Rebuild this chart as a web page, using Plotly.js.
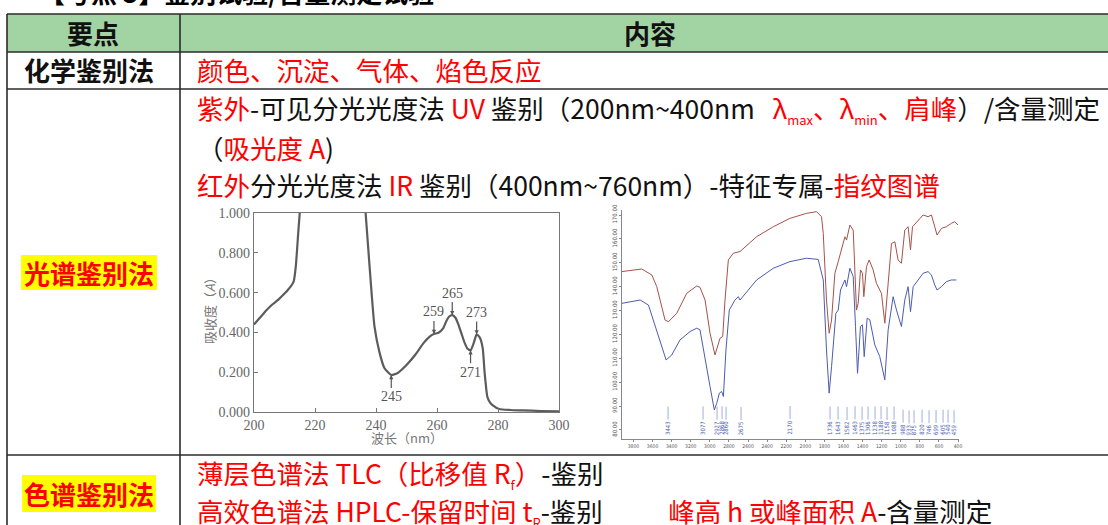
<!DOCTYPE html>
<html>
<head>
<meta charset="utf-8">
<script src="https://cdn.plot.ly/plotly-3.0.1.min.js"></script>
<style>html,body{margin:0;padding:0;background:#fff;}#chart{width:1108px;height:525px;}</style>
</head>
<body>
<div id="chart"></div>
<script>
// ---------- Data ----------
// UV spectrum (wavelength nm, absorbance A)
const uvWavelength = [200,202,204,206,208,210,212,213,213.7,214.5,215.1,225,236.5,237.9,239.5,241.2,242.8,245,247,250,253,255.5,257.5,259,260.5,262,263,264,265,266,267,268,269,270,271,272,273,274,275,275.6,276.5,277.3,278.2,280.4,284,288,294,300];
const uvAbsorbance = [0.44,0.475,0.51,0.54,0.565,0.595,0.63,0.655,0.73,0.9,1.02,null,1.02,0.73,0.43,0.296,0.22,0.186,0.195,0.236,0.29,0.345,0.378,0.392,0.398,0.42,0.455,0.48,0.487,0.475,0.44,0.395,0.35,0.318,0.31,0.345,0.39,0.375,0.32,0.2,0.077,0.05,0.035,0.015,0.01,0.008,0.005,0.003];
const uvPeaksAbove = [259,265,273];
const uvPeaksBelow = [245,271];

// IR spectra (wavenumber cm-1, transmittance)
const irWavenumber = [3922,3800,3713,3608,3556,3469,3434,3347,3242,3137,3103,3050,2998,2946,2911,2893,2865,2841,2806,2754,2684,2510,2335,2161,1987,1882,1830,1812,1778,1750,1725,1690,1655,1620,1585,1568,1533,1498,1464,1446,1422,1401,1387,1359,1331,1289,1255,1202,1167,1132,1097,1062,1028,993,958,923,898,877,818,766,714,679,644,620,574,522,470,435,400];
const irRed = [146.3,147,147.4,144.9,140,126,125.3,128.8,137.2,140.3,139.7,134.4,120.5,111.4,116.3,118.4,119.1,134.4,151.2,154,154.7,160.9,165.1,168.6,170.7,171.4,169.3,162.3,134.4,120.5,126,145.6,150.5,155.4,160.9,159.5,165.8,163.7,130.2,133,147,145.6,135.8,148.4,151.2,147,141.4,137.2,124.7,141.4,158.1,158.8,151.2,149.8,163.7,165.1,155.4,165.1,167.9,170,169.3,170,165.1,161.6,164.4,165.1,166.5,167.2,165.8];
const irBlueWavenumber = [3922,3730,3643,3573,3504,3458,3399,3312,3207,3137,3103,3050,2998,2953,2928,2900,2876,2858,2831,2796,2737,2702,2684,2510,2335,2161,1987,1865,1812,1778,1750,1725,1680,1655,1631,1585,1568,1533,1498,1474,1453,1422,1401,1383,1352,1324,1272,1220,1167,1132,1080,1045,993,958,923,898,870,818,766,714,679,644,620,574,522,470,417];
const irBlue = [133,134.4,132.3,123.3,114.9,109.3,111.4,117.7,121.2,122.6,121.9,110.7,98.2,88.4,91.1,95.4,96.1,94,113.5,130.2,134.4,135.8,134.4,142.8,147.7,150.5,151.9,151.4,142.8,113.5,95.4,106.5,128.8,130.2,138.6,142.8,140,147.7,144.2,123.3,103.7,123.3,124,110.7,126.8,126.1,115.6,110.7,101,121.9,135.8,130.2,123.3,134.4,140,129.5,140,142.8,145.6,146.3,144.9,140.7,138.6,140,142.1,142.8,142.8];
const irPeakLabels = ['3443','3077','2927','2868','2860','2675','2170','1736','1643','1582','1463','1375','1306','1238','1188','1158','1088','988','933','875','820','746','699','605','540','459'];
const irPeakLabelPos = [3443,3077,2927,2880,2835,2675,2170,1747,1663,1565,1488,1408,1349,1276,1216,1146,1077,989,920,868,791,711,641,571,519,450];

// ---------- Helpers ----------
const W = 1108, H = 525;
const px = x => x / W;
const py = y => 1 - y / H;
const RED = '#ff0000';
const r = t => '<span style="color:' + RED + '">' + t + '</span>';
const sub = t => '<sub><span style="font-size:13px">' + t + '</span></sub>';
const CJK = '"Noto Sans CJK SC", "Noto Sans", sans-serif';
const SERIF = '"Liberation Serif", "DejaVu Serif", serif';
const NB = '\u00A0';
const FS = 26.5;

function interp(xs, ys, x) {
  for (let i = 0; i < xs.length - 1; i++) {
    const a = xs[i], b = xs[i + 1];
    if (ys[i] == null || ys[i + 1] == null) continue;
    if ((x - a) * (x - b) <= 0) {
      return ys[i] + (ys[i + 1] - ys[i]) * (x - a) / (b - a);
    }
  }
  return null;
}

// ---------- Traces ----------
const traces = [
  {x: uvWavelength, y: uvAbsorbance, xaxis: 'x', yaxis: 'y', type: 'scatter', mode: 'lines',
   line: {color: '#5c5c5c', width: 2.2, shape: 'spline', smoothing: 0.5}, connectgaps: false, hoverinfo: 'skip'},
  {x: irWavenumber, y: irRed, xaxis: 'x2', yaxis: 'y2', type: 'scatter', mode: 'lines',
   line: {color: '#a5524a', width: 1}, hoverinfo: 'skip'},
  {x: irBlueWavenumber, y: irBlue, xaxis: 'x2', yaxis: 'y2', type: 'scatter', mode: 'lines',
   line: {color: '#4b5cae', width: 1}, hoverinfo: 'skip'}
];

// ---------- Table shapes ----------
const LINE = {color: '#2b2b2b', width: 1.6};
const shapes = [
  {type: 'rect', xref: 'paper', yref: 'paper', x0: px(7), x1: px(1110), y0: py(52), y1: py(14), fillcolor: '#a2d3a3', line: {width: 0}, layer: 'below'},
  {type: 'rect', xref: 'paper', yref: 'paper', x0: px(21), x1: px(157), y0: py(290), y1: py(255), fillcolor: '#ffff00', line: {width: 0}, layer: 'below'},
  {type: 'rect', xref: 'paper', yref: 'paper', x0: px(22), x1: px(156), y0: py(512), y1: py(475), fillcolor: '#ffff00', line: {width: 0}, layer: 'below'},
  // horizontal lines
  {type: 'line', xref: 'paper', yref: 'paper', x0: px(7), x1: px(1110), y0: py(14), y1: py(14), line: LINE},
  {type: 'line', xref: 'paper', yref: 'paper', x0: px(7), x1: px(1110), y0: py(52), y1: py(52), line: LINE},
  {type: 'line', xref: 'paper', yref: 'paper', x0: px(7), x1: px(1110), y0: py(89), y1: py(89), line: LINE},
  {type: 'line', xref: 'paper', yref: 'paper', x0: px(7), x1: px(1110), y0: py(455), y1: py(455), line: LINE},
  // vertical lines
  {type: 'line', xref: 'paper', yref: 'paper', x0: px(7), x1: px(7), y0: py(14), y1: py(530), line: LINE},
  {type: 'line', xref: 'paper', yref: 'paper', x0: px(180), x1: px(180), y0: py(14), y1: py(530), line: LINE}
];

// ---------- Text annotations ----------
const T = (x, y, text, opts) => Object.assign({
  xref: 'paper', yref: 'paper', x: px(x), y: py(y), text: text, showarrow: false,
  xanchor: 'left', yanchor: 'middle', font: {family: CJK, size: FS, color: '#111'}
}, opts || {});

const annotations = [
  T(37, -8, '<b>【考点 5】鉴别试验/含量测定试验</b>', {font: {family: CJK, size: 26, color: '#000'}}),
  T(93, 33, '<b>要点</b>', {xanchor: 'center', font: {family: CJK, size: 26, color: '#111'}}),
  T(650, 33, '<b>内容</b>', {xanchor: 'center', font: {family: CJK, size: 26, color: '#111'}}),
  T(89, 70, '<b>化学鉴别法</b>', {xanchor: 'center', font: {family: CJK, size: 26, color: '#111'}}),
  T(195, 70, r('颜色、沉淀、气体、焰色反应')),
  T(195, 109, r('紫外') + '-可见分光光度法 ' + r('UV') + ' 鉴别（200nm~400nm' + NB + NB + NB + r('λ' + sub('max') + '、λ' + sub('min') + '、肩峰') + '）/含量测定'),
  T(195, 147, '（' + r('吸光度 A') + ')'),
  T(195, 184, r('红外') + '分光光度法 ' + r('IR') + ' 鉴别（400nm~760nm）-特征专属-' + r('指纹图谱')),
  T(89, 272, '<b>' + r('光谱鉴别法') + '</b>', {xanchor: 'center', font: {family: CJK, size: 26, color: RED}}),
  T(89, 493, '<b>' + r('色谱鉴别法') + '</b>', {xanchor: 'center', font: {family: CJK, size: 26, color: RED}}),
  T(195, 473, r('薄层色谱法 TLC（比移值 R' + sub('f') + '）') + '-鉴别'),
  T(195, 511, r('高效色谱法 HPLC-保留时间 t' + sub('R')) + '-鉴别' + NB.repeat(11) + r('峰高 h 或峰面积 A') + '-含量测定'),
  // UV axis titles
  T(407, 437, '波长（nm）', {xanchor: 'center', font: {family: CJK, size: 13, color: '#777'}}),
  T(209, 308, '吸收度（<i>A</i>）', {xanchor: 'center', textangle: -90, font: {family: CJK, size: 13, color: '#777'}})
];

// UV peak labels
uvPeaksAbove.forEach(p => {
  annotations.push({xref: 'x', yref: 'y', x: p, y: interp(uvWavelength, uvAbsorbance, p), text: String(p),
    showarrow: true, arrowhead: 2, arrowsize: 0.7, arrowwidth: 1.2, arrowcolor: '#555', ax: 0, ay: -22,
    font: {family: SERIF, size: 14, color: '#555'}});
});
uvPeaksBelow.forEach(p => {
  annotations.push({xref: 'x', yref: 'y', x: p, y: interp(uvWavelength, uvAbsorbance, p), text: String(p),
    showarrow: true, arrowhead: 2, arrowsize: 0.7, arrowwidth: 1.2, arrowcolor: '#555', ax: 0, ay: 22,
    font: {family: SERIF, size: 14, color: '#555'}});
});

// IR peak labels (rotated)
irPeakLabels.forEach((lab, i) => {
  annotations.push({xref: 'x2', yref: 'paper', x: irPeakLabelPos[i], y: py(437), yanchor: 'bottom', xanchor: 'center',
    text: lab + ' ────', textangle: -90, showarrow: false,
    font: {family: '"DejaVu Sans Condensed", "Liberation Sans Narrow", sans-serif', size: 6, color: '#4b5cae'}});
});

// ---------- Layout ----------
const layout = {
  width: W, height: H,
  margin: {l: 0, r: 0, t: 0, b: 0},
  paper_bgcolor: '#ffffff', plot_bgcolor: '#ffffff',
  showlegend: false,
  xaxis: {domain: [px(254), px(559)], range: [200, 300], anchor: 'y', dtick: 20, tick0: 200,
    showline: true, mirror: true, linecolor: '#777', linewidth: 1.2, ticks: 'inside', ticklen: 4, tickcolor: '#777',
    showgrid: false, zeroline: false, tickfont: {family: SERIF, size: 14, color: '#666'}},
  yaxis: {domain: [py(412), py(213)], range: [0, 1], anchor: 'x', dtick: 0.2, tickformat: '.3f',
    showline: true, mirror: true, linecolor: '#777', linewidth: 1.2, ticks: 'inside', ticklen: 4, tickcolor: '#777',
    showgrid: false, zeroline: false, tickfont: {family: SERIF, size: 14, color: '#666'}},
  xaxis2: {domain: [px(622), px(959)], range: [3920, 390], anchor: 'y2', dtick: 200, tick0: 400,
    showline: true, linecolor: '#888', linewidth: 1, ticks: 'outside', ticklen: 2, tickcolor: '#888',
    showgrid: false, zeroline: false, tickfont: {family: '"DejaVu Sans Condensed", sans-serif', size: 5, color: '#555'}},
  yaxis2: {domain: [py(439), py(210)], range: [76.2, 172.1], anchor: 'x2', dtick: 10, tick0: 80, tickformat: '.2f',
    showline: true, linecolor: '#888', linewidth: 1, ticks: 'outside', ticklen: 2, tickcolor: '#888', tickangle: -90,
    showgrid: false, zeroline: false, tickfont: {family: '"DejaVu Sans Condensed", sans-serif', size: 6, color: '#555'}},
  shapes: shapes,
  annotations: annotations
};

Plotly.newPlot('chart', traces, layout, {displayModeBar: false, staticPlot: true});
</script>
</body>
</html>
